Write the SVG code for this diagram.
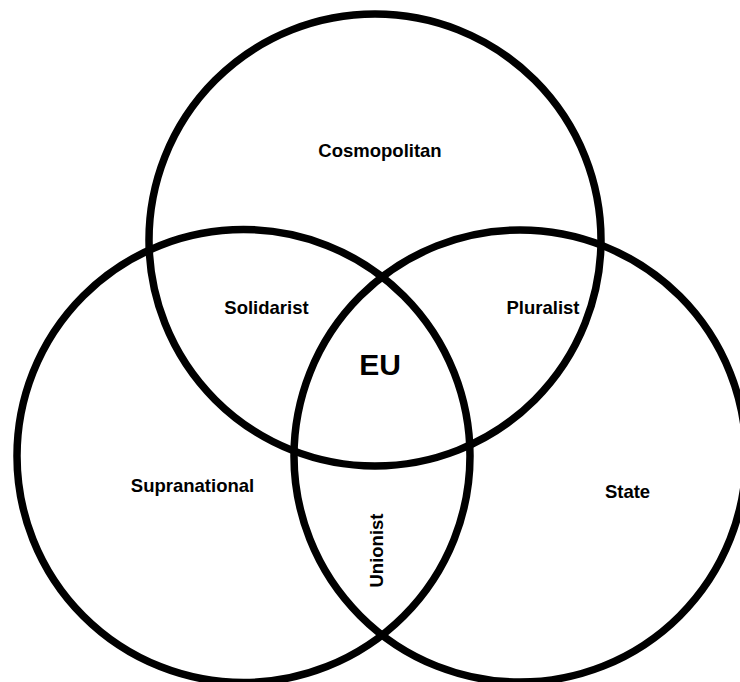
<svg xmlns="http://www.w3.org/2000/svg" width="740" height="682" viewBox="0 0 740 682">
<style>
.c{fill:none;stroke:#000;stroke-width:7.5}
.t{font-family:"Liberation Sans",Arial,sans-serif;font-weight:bold;font-size:18.5px;fill:#000;text-anchor:middle}
.eu{font-size:30px}
</style>
<rect width="740" height="682" fill="#fff"/>
<g id="connectors"></g>
<g id="cosmopolitan">
<circle class="c" cx="375" cy="240" r="226"/>
<text class="t" x="380" y="157">Cosmopolitan</text>
</g>
<g id="supranational">
<circle class="c" cx="243.5" cy="456" r="226.5"/>
<text class="t" x="192.5" y="492">Supranational</text>
</g>
<g id="state">
<circle class="c" cx="520" cy="456" r="226"/>
<text class="t" x="627.5" y="498">State</text>
</g>
<g id="solidarist"><text class="t" x="266.5" y="314">Solidarist</text></g>
<g id="pluralist"><text class="t" x="543" y="314">Pluralist</text></g>
<g id="eu"><text class="t eu" x="380" y="375">EU</text></g>
<g id="unionist"><text class="t" transform="translate(382.5 550.5) rotate(-90)" x="0" y="0">Unionist</text></g>
</svg>
